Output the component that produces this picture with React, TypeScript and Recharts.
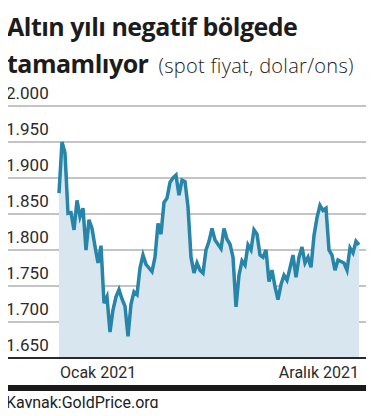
import { AreaChart, Area, XAxis, YAxis, CartesianGrid } from 'recharts';

// spot altın fiyatı, dolar/ons
const prices = [
  1879, 1950, 1935, 1851, 1852, 1828, 1869, 1846, 1858, 1800,
  1842, 1830, 1805, 1782, 1806, 1726, 1735, 1686, 1717, 1735,
  1745, 1732, 1722, 1680, 1725, 1742, 1738, 1775, 1793, 1780,
  1775, 1770, 1790, 1837, 1822, 1866, 1872, 1894, 1900, 1904,
  1876, 1897, 1895, 1860, 1790, 1768, 1782, 1772, 1768, 1800,
  1812, 1830, 1814, 1808, 1802, 1830, 1815, 1808, 1790, 1721,
  1765, 1785, 1779, 1807, 1800, 1828, 1822, 1793, 1790, 1800,
  1756, 1772, 1749, 1731, 1752, 1765, 1758, 1775, 1793, 1762,
  1790, 1804, 1782, 1790, 1776, 1820, 1845, 1862, 1855, 1858,
  1800, 1793, 1772, 1786, 1784, 1782, 1772, 1803, 1796, 1812,
  1807,
];

const yTicks = [1650, 1700, 1750, 1800, 1850, 1900, 1950, 2000];
const xTickIndex = [0, prices.length - 1];
const xLabels = ['Ocak 2021', 'Aralık 2021'];

const data = prices.map((price, i) => ({ i, price }));

const FONT = 'Roboto, "Noto Sans", sans-serif';
const TITLE_FONT = '"Open Sans", Roboto, sans-serif';

const fmt = (v: number) => {
  const s = String(v);
  return s.length > 3 ? s.slice(0, -3) + '.' + s.slice(-3) : s;
};

const YTick = ({ y, payload }: any) => (
  <text x={6} y={y - 7} fill="#2b2b2b" fontSize={17} fontFamily={FONT}>
    {fmt(payload.value)}
  </text>
);

const XTick = ({ x, y, payload }: any) => {
  const first = payload.value === xTickIndex[0];
  return (
    <text
      x={first ? x + 1 : x}
      y={y + 12}
      textAnchor={first ? 'start' : 'end'}
      fill="#2b2b2b"
      fontSize={16}
      fontFamily={FONT}
    >
      {first ? xLabels[0] : xLabels[1]}
    </text>
  );
};

export default function App() {
  return (
    <div
      style={{
        position: 'relative',
        width: 374,
        height: 416,
        margin: -8,
        background: '#fff',
        fontFamily: FONT,
        color: '#222',
        overflow: 'hidden',
      }}
    >
      <div style={{ position: 'absolute', left: 8, top: 4, width: 363, height: 3, background: '#1a1a1a' }} />
      <div
        style={{
          position: 'absolute',
          left: 7,
          top: 8,
          fontFamily: TITLE_FONT,
          fontSize: 25,
          fontWeight: 700,
          lineHeight: '37px',
          letterSpacing: -0.5,
          whiteSpace: 'nowrap',
          color: '#1c1c1c',
        }}
      >
        Altın yılı negatif bölgede
        <br />
        tamamlıyor
        <span style={{ fontWeight: 300, fontSize: 20, letterSpacing: 0.3, marginLeft: 10 }}>
          (spot fiyat, dolar/ons)
        </span>
      </div>

      <AreaChart
        width={374}
        height={416}
        data={data}
        margin={{ top: 106, right: 3, left: 4, bottom: 28 }}
      >
        <CartesianGrid horizontal vertical={false} stroke="#8a8a8a" strokeWidth={1.2} />
        <XAxis
          type="number"
          dataKey="i"
          domain={[-18, 104]}
          ticks={xTickIndex}
          tick={<XTick />}
          tickLine={false}
          axisLine={{ stroke: '#2a2a2a', strokeWidth: 2 }}
          height={30}
          interval={0}
        />
        <YAxis
          domain={[1650, 2000]}
          ticks={yTicks}
          width={1}
          axisLine={false}
          tickLine={false}
          tick={<YTick />}
          interval={0}
        />
        <Area
          type="linear"
          dataKey="price"
          stroke="#2685a8"
          strokeWidth={3.5}
          fill="#d7e6ef"
          fillOpacity={1}
          isAnimationActive={false}
          dot={false}
          activeDot={false}
        />
      </AreaChart>

      <div style={{ position: 'absolute', left: 5, top: 385, width: 366, height: 6, background: '#1a1a1a' }} />
      <div style={{ position: 'absolute', left: 6, top: 393, fontSize: 16, lineHeight: '20px', whiteSpace: 'nowrap' }}>
        Kaynak:GoldPrice.org
      </div>
    </div>
  );
}
